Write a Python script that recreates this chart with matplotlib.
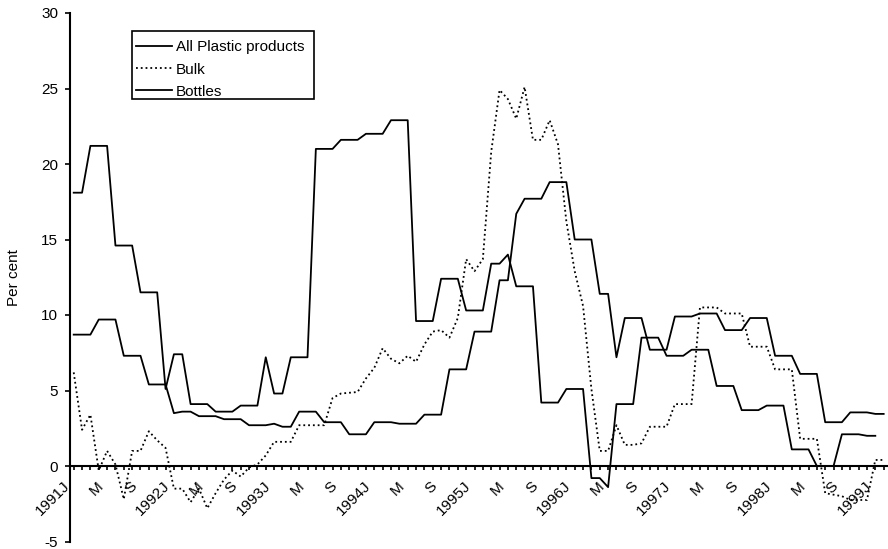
import numpy as np
import matplotlib.pyplot as plt
from matplotlib.patches import Rectangle
from matplotlib.transforms import ScaledTranslation

plt.rcParams['font.family'] = ['Liberation Sans', 'DejaVu Sans']
plt.rcParams['axes.unicode_minus'] = False

# monthly year-on-year change, Jan 1991 onwards
all_plastic = [8.7, 8.7, 8.7, 9.7, 9.7, 9.7, 7.3, 7.3, 7.3, 5.4, 5.4, 5.4,
               3.5, 3.6, 3.6, 3.3, 3.3, 3.3, 3.1, 3.1, 3.1, 2.7, 2.7, 2.7,
               2.8, 2.6, 2.6, 3.6, 3.6, 3.6, 2.9, 2.9, 2.9, 2.1, 2.1, 2.1,
               2.9, 2.9, 2.9, 2.8, 2.8, 2.8, 3.4, 3.4, 3.4, 6.4, 6.4, 6.4,
               8.9, 8.9, 8.9, 12.3, 12.3, 16.7, 17.7, 17.7, 17.7, 18.8, 18.8, 18.8,
               15.0, 15.0, 15.0, 11.4, 11.4, 7.2, 9.8, 9.8, 9.8, 7.7, 7.7, 7.7,
               9.9, 9.9, 9.9, 10.1, 10.1, 10.1, 9.0, 9.0, 9.0, 9.8, 9.8, 9.8,
               7.3, 7.3, 7.3, 6.1, 6.1, 6.1, 2.9, 2.9, 2.9, 3.55, 3.55, 3.55,
               3.45, 3.45]

bulk = [6.2, 2.4, 3.4, -0.3, 1.0, 0.1, -2.2, 1.0, 1.0, 2.3, 1.7, 1.2,
        -1.5, -1.5, -2.4, -1.5, -2.8, -1.8, -0.9, -0.3, -0.7, -0.1, 0.1, 0.7,
        1.6, 1.6, 1.6, 2.7, 2.7, 2.7, 2.7, 4.5, 4.8, 4.85, 4.9, 5.8,
        6.5, 7.8, 7.1, 6.8, 7.3, 6.9, 8.05, 8.9, 9.0, 8.5, 9.8, 13.7,
        12.9, 13.7, 20.8, 24.9, 24.3, 23.0, 25.1, 21.6, 21.6, 22.9, 21.3, 16.2,
        12.9, 10.6, 5.1, 1.0, 1.0, 2.7, 1.4, 1.4, 1.5, 2.6, 2.6, 2.6,
        4.1, 4.1, 4.1, 10.5, 10.5, 10.5, 10.1, 10.1, 10.1, 7.9, 7.9, 7.9,
        6.4, 6.4, 6.4, 1.8, 1.8, 1.8, -1.8, -1.9, -2.0, -2.25, -2.25, -2.25,
        0.4, 0.4]

bottles = [18.1, 18.1, 21.2, 21.2, 21.2, 14.6, 14.6, 14.6, 11.5, 11.5, 11.5, 5.1,
           7.4, 7.4, 4.1, 4.1, 4.1, 3.6, 3.6, 3.6, 4.0, 4.0, 4.0, 7.2,
           4.8, 4.8, 7.2, 7.2, 7.2, 21.0, 21.0, 21.0, 21.6, 21.6, 21.6, 22.0,
           22.0, 22.0, 22.9, 22.9, 22.9, 9.6, 9.6, 9.6, 12.4, 12.4, 12.4, 10.3,
           10.3, 10.3, 13.4, 13.4, 14.0, 11.9, 11.9, 11.9, 4.2, 4.2, 4.2, 5.1,
           5.1, 5.1, -0.8, -0.8, -1.4, 4.1, 4.1, 4.1, 8.5, 8.5, 8.5, 7.3,
           7.3, 7.3, 7.7, 7.7, 7.7, 5.3, 5.3, 5.3, 3.7, 3.7, 3.7, 4.0,
           4.0, 4.0, 1.1, 1.1, 1.1, 0.0, 0.0, 0.0, 2.1, 2.1, 2.1, 2.0,
           2.0]

tick_labels = ['1991J', 'M', 'S', '1992J', 'M', 'S', '1993J', 'M', 'S',
               '1994J', 'M', 'S', '1995J', 'M', 'S', '1996J', 'M', 'S',
               '1997J', 'M', 'S', '1998J', 'M', 'S', '1999J']

fig = plt.figure(figsize=(8.88, 5.49), dpi=100)
ax = fig.add_axes([70 / 888, 1 - 541.5 / 549, 818 / 888, 528.5 / 549])

months = np.arange(len(all_plastic))
ax.plot(months, all_plastic, color='black', lw=1.3, label='All Plastic products')
ax.plot(months[:len(bulk)], bulk, color='black', lw=1.3, ls=':', label='Bulk')
ax.plot(months[:len(bottles)], bottles, color='black', lw=1.3, label='Bottles')

ax.set_xlim(-0.443, 97.52)
ax.set_ylim(-5, 30)
ax.set_yticks(range(-5, 31, 5))

for side in ['top', 'right']:
    ax.spines[side].set_visible(False)
ax.spines['bottom'].set_position(('data', 0))
ax.spines['bottom'].set_linewidth(1.5)
ax.spines['left'].set_linewidth(1.5)

# a tick every month, labels every fourth month written below the zero line
ax.set_xticks(months)
ax.tick_params(axis='x', direction='out', length=3.2, width=1.2, labelbottom=False)
ax.tick_params(axis='y', direction='out', length=3.6, width=1.2, pad=5,
               labelsize=11)

shift = ax.transData + ScaledTranslation(-11 / 100, -13 / 100, fig.dpi_scale_trans)
for pos, text in zip(range(0, len(months), 4), tick_labels):
    ax.text(pos, 0, text, transform=shift, rotation=45, rotation_mode='anchor',
            ha='right', va='top', fontsize=11)

ax.set_ylabel('Per cent', fontsize=11)
ax.yaxis.set_label_coords(-0.06, 0.5)

# legend entries with a separate box around them
frame = Rectangle((132 / 888, 1 - 99 / 549), 182 / 888, 68 / 549,
                  transform=fig.transFigure, facecolor='white', edgecolor='black',
                  lw=1.2, zorder=4, clip_on=False)
ax.add_patch(frame)
leg = ax.legend(loc='upper left', bbox_to_anchor=(130 / 888, 1 - 35 / 549),
                bbox_transform=fig.transFigure, frameon=False, borderaxespad=0,
                borderpad=0.36, labelspacing=0.53, handlelength=2.4,
                handletextpad=0.26, fontsize=11)
leg.set_zorder(5)

fig.savefig('out.png', dpi=100)
